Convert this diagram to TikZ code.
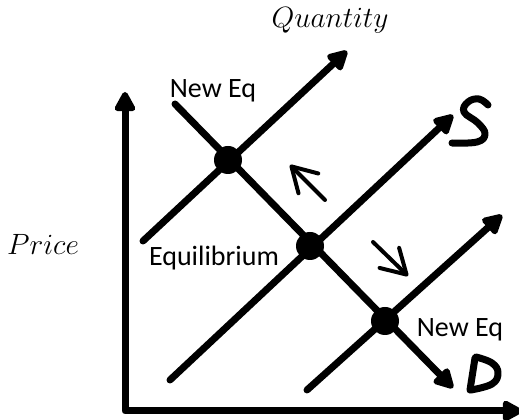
\documentclass[tikz,border=0pt]{standalone}
\usepackage{fix-cm}
\usepackage{fontspec}
\setmainfont{Carlito}
\usetikzlibrary{arrows.meta,positioning}

\begin{document}
\begin{tikzpicture}[x=0.75pt, y=-0.75pt, font=\fontsize{21}{24}\selectfont,
  tip/.style={-{Triangle[round,length=17pt,width=17pt]}},
  curve/.style={line width=5.25pt, line cap=round, tip},
  hand/.style={line width=5.25pt, line cap=round, line join=round},
  shiftarrow/.style={line width=3pt, line cap=round, -{Straight Barb[round,length=18pt,width=21pt]}},
  dot/.style={circle, fill, inner sep=0pt, minimum size=21pt}]
  \useasboundingbox (0,0) rectangle (519,420);
  % axes
  \coordinate (O) at (125,411);
  \coordinate (ytip) at (125,92);
  \coordinate (xtip) at (522,411);
  \draw[line width=5.25pt, line join=round,
    {Triangle[round,length=17pt,width=17pt]}-{Triangle[round,length=17pt,width=17pt]}]
    (ytip) -- (O) -- (xtip);
  \node[anchor=base] (qty) at (330,28) {\fontsize{22}{24}\selectfont$Quantity$};
  \node[anchor=base] (price) at (43,255) {\fontsize{22}{24}\selectfont$Price$};
  % supply and demand
  \coordinate (S1a) at (143,241); \coordinate (S1b) at (347,51);
  \coordinate (Sa) at (170,380);  \coordinate (Sb) at (453,115);
  \coordinate (S2a) at (307,390); \coordinate (S2b) at (502,215);
  \coordinate (Da) at (175,104);  \coordinate (Db) at (453,388);
  \draw[curve] (S1a) -- (S1b);
  \draw[curve] (Sa) -- (Sb);
  \draw[curve] (S2a) -- (S2b);
  \draw[curve] (Da) -- (Db);
  \node[dot] (eq1) at (228,160) {};
  \node[dot] (eq) at (310,246) {};
  \node[dot] (eq2) at (385,321) {};
  \node[anchor=base] (lab1) at (213,98) {New Eq};
  \node[anchor=base] (lab) at (214,266) {Equilibrium};
  \node[anchor=base] (lab2) at (460,337) {New Eq};
  % shifts
  \coordinate (upA) at (325,200); \coordinate (upB) at (290,165);
  \coordinate (dnA) at (373,242); \coordinate (dnB) at (408,276);
  \draw[shiftarrow] (upA) -- (upB);
  \draw[shiftarrow] (dnA) -- (dnB);
  % hand-written S and D
  \draw[hand] plot[smooth, tension=0.7] coordinates
    {(488,105) (479,99) (468,102) (464,112) (478,123) (485,134) (477,142) (452,143)};
  \draw[hand] (475,358) -- (470,390);
  \draw[hand] plot[smooth, tension=0.7] coordinates
    {(476,357) (492,363) (498,373) (492,384) (471,390)};
\end{tikzpicture}
\end{document}
